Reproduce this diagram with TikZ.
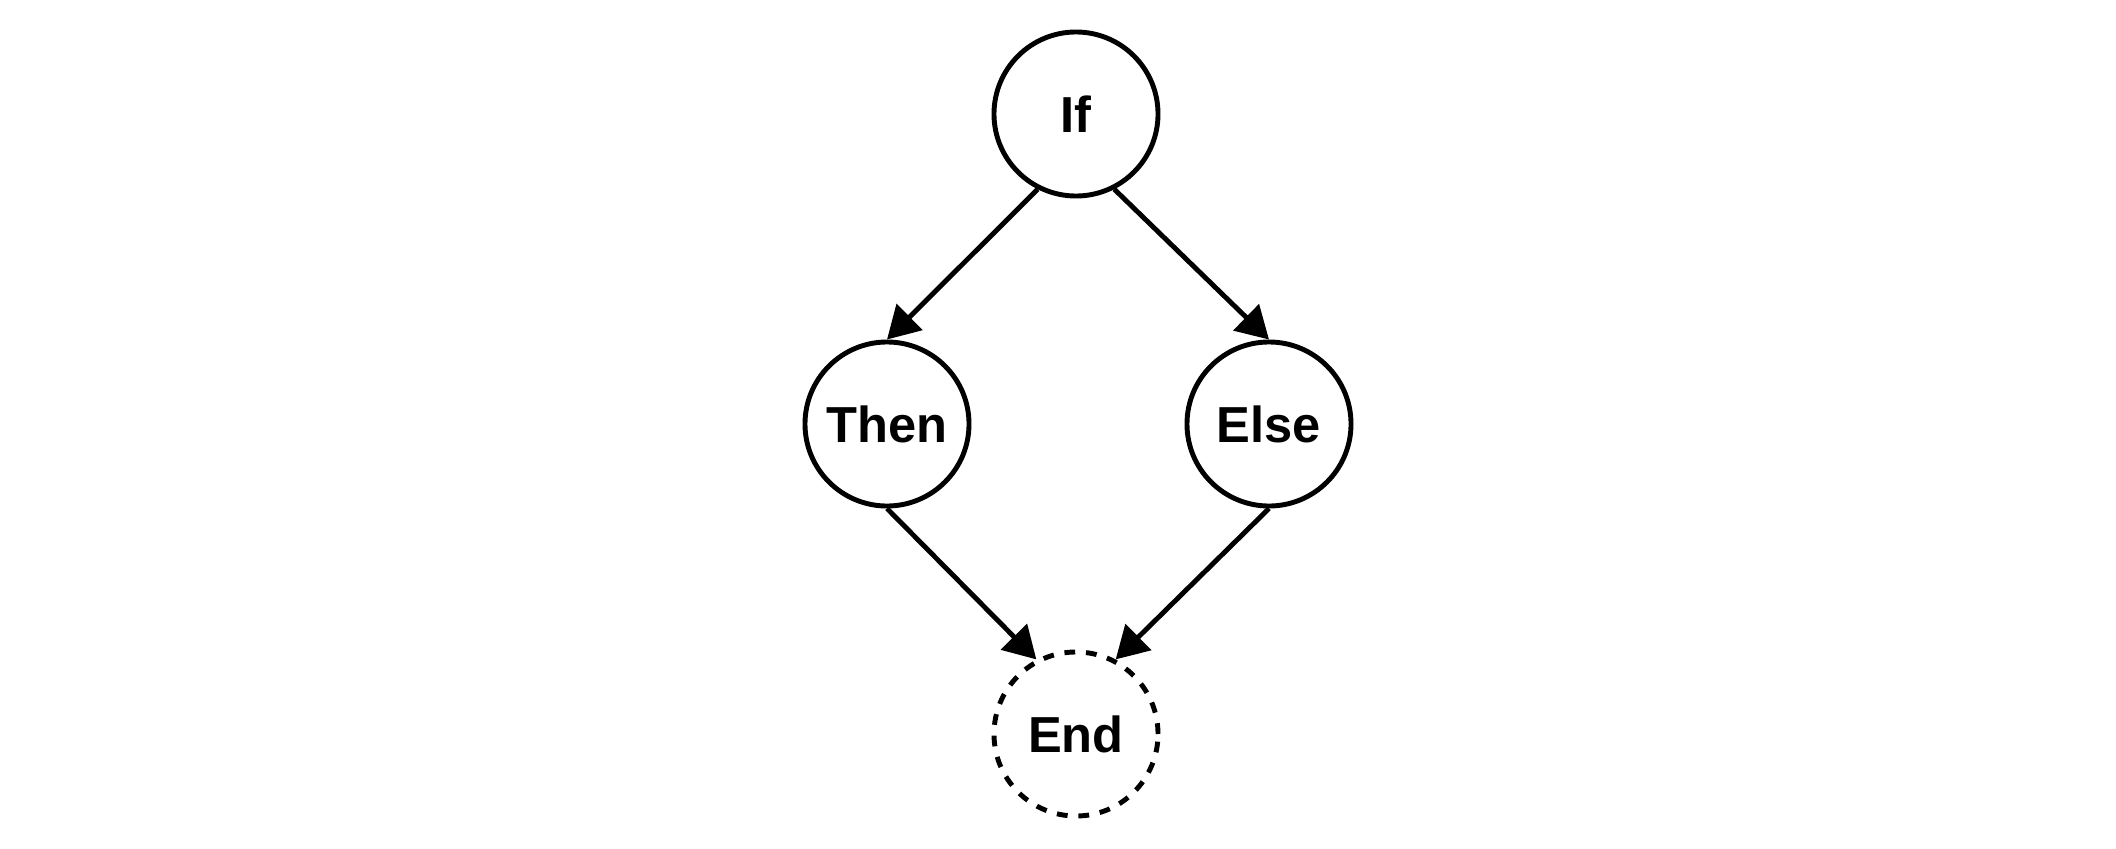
\documentclass[tikz,border=0pt]{standalone}
\usepackage{fontspec}
\setmainfont{Liberation Sans}
\usetikzlibrary{arrows.meta}
\begin{document}
\begin{tikzpicture}[x=0.025cm,y=-0.025cm,line join=round,
	>={Triangle[length=0.8cm,width=0.9cm]},
	blob/.style={circle,draw,line width=3.5pt,minimum size=4.1cm,inner sep=0pt,
		font=\fontsize{36}{40}\selectfont\bfseries},
	link/.style={->,line width=3.5pt}]
	
	\useasboundingbox (0,0) rectangle (2116,848);
	\node[blob] (If) at (1076,114) {If};
	\node[blob] (Then) at (887,424) {Then};
	\node[blob] (Else) at (1269,424) {Else};
	\node[blob,dash pattern=on 0.27cm off 0.27cm] (End) at (1076,734) {End}; % nút kết thúc nét đứt
	\draw[link] (If.243) -- (Then.north);
	\draw[link] (If.297) -- (Else.north);
	\draw[link] (Then.south) -- (End.118);
	\draw[link] (Else.south) -- (End.62);
\end{tikzpicture}
\end{document}
